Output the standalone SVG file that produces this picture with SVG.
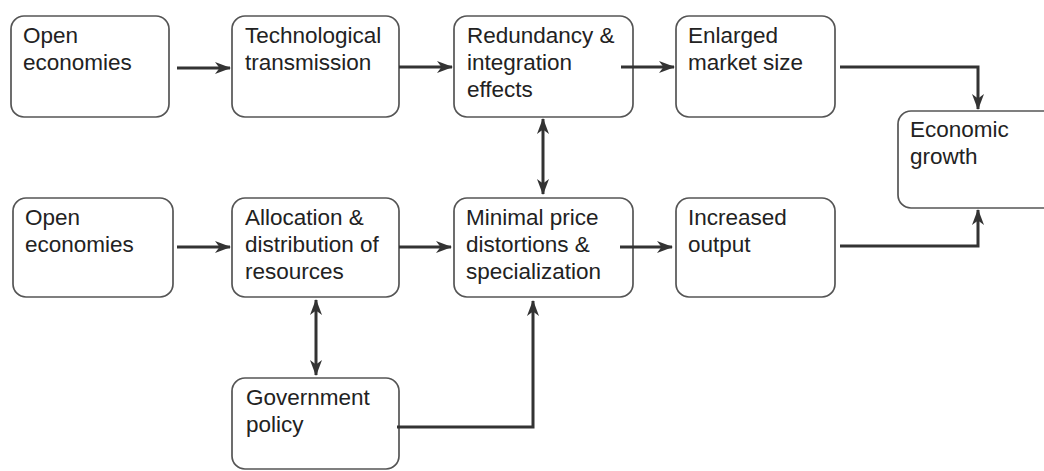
<svg xmlns="http://www.w3.org/2000/svg" width="1044" height="471" viewBox="0 0 1044 471">
<style>
.box{fill:#fff;stroke:#555;stroke-width:1.7}
.t{font-family:"Liberation Sans",Arial,sans-serif;font-size:22.5px;fill:#222}
.c{fill:none;stroke:#333;stroke-width:3}
</style>
<defs>
<marker id="ah" viewBox="0 0 16 12" refX="15" refY="6" markerWidth="16" markerHeight="12" markerUnits="userSpaceOnUse" orient="auto-start-reverse">
<path d="M0,0 L16,6 L0,12 L4.5,6 z" fill="#333"/>
</marker>
</defs>
<rect width="1044" height="471" fill="#fff"/>
<g id="n1"><rect class="box" x="11" y="16" width="158" height="101" rx="13"/><text class="t" x="23" y="43">Open</text><text class="t" x="23" y="70">economies</text></g>
<g id="n2"><rect class="box" x="232" y="16" width="167" height="101" rx="13"/><text class="t" x="245" y="43">Technological</text><text class="t" x="245" y="70">transmission</text></g>
<g id="n3"><rect class="box" x="454" y="16" width="179" height="101" rx="13"/><text class="t" x="467" y="43">Redundancy &amp;</text><text class="t" x="467" y="70">integration</text><text class="t" x="467" y="97">effects</text></g>
<g id="n4"><rect class="box" x="676" y="16" width="159" height="101" rx="13"/><text class="t" x="688" y="43">Enlarged</text><text class="t" x="688" y="70">market size</text></g>
<g id="n5"><rect class="box" x="898" y="111" width="160" height="97" rx="13"/><text class="t" x="910" y="137">Economic</text><text class="t" x="910" y="164">growth</text></g>
<g id="n6"><rect class="box" x="13" y="198" width="160" height="99" rx="13"/><text class="t" x="25" y="225">Open</text><text class="t" x="25" y="252">economies</text></g>
<g id="n7"><rect class="box" x="232" y="198" width="167" height="99" rx="13"/><text class="t" x="245" y="225">Allocation &amp;</text><text class="t" x="245" y="252">distribution of</text><text class="t" x="245" y="279">resources</text></g>
<g id="n8"><rect class="box" x="454" y="198" width="179" height="99" rx="13"/><text class="t" x="466" y="225">Minimal price</text><text class="t" x="466" y="252">distortions &amp;</text><text class="t" x="466" y="279">specialization</text></g>
<g id="n9"><rect class="box" x="676" y="198" width="159" height="99" rx="13"/><text class="t" x="688" y="225">Increased</text><text class="t" x="688" y="252">output</text></g>
<g id="n10"><rect class="box" x="232" y="378" width="167" height="91" rx="13"/><text class="t" x="246" y="405">Government</text><text class="t" x="246" y="432">policy</text></g>
<g id="connectors">
<path class="c" d="M177,68 H230" marker-end="url(#ah)"/>
<path class="c" d="M399,67 H452" marker-end="url(#ah)"/>
<path class="c" d="M621,67 H674" marker-end="url(#ah)"/>
<path class="c" d="M840,67 H978 V109" marker-end="url(#ah)"/>
<path class="c" d="M177,247 H230" marker-end="url(#ah)"/>
<path class="c" d="M399,247 H451" marker-end="url(#ah)"/>
<path class="c" d="M620,247 H672" marker-end="url(#ah)"/>
<path class="c" d="M840,246 H978 V210" marker-end="url(#ah)"/>
<path class="c" d="M543,119 V194" marker-start="url(#ah)" marker-end="url(#ah)"/>
<path class="c" d="M316,300 V375" marker-start="url(#ah)" marker-end="url(#ah)"/>
<path class="c" d="M397,427 H533 V301" marker-end="url(#ah)"/>
</g>
</svg>
